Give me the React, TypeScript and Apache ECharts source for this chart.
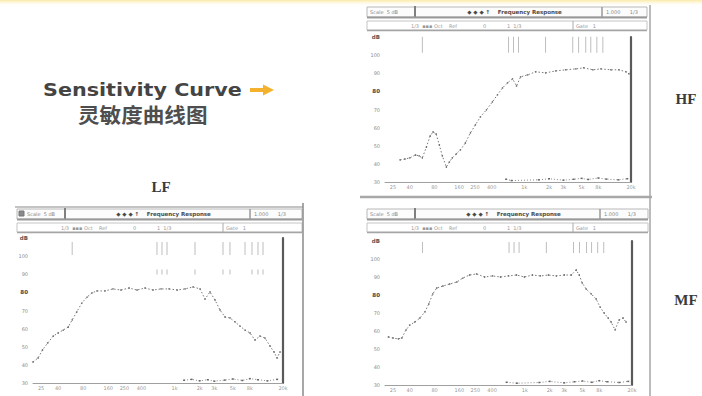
import React, { useEffect, useRef } from 'react';
import * as echarts from 'echarts';

// ---- data (frequency in Hz, level in dB) ----
const HF_FREQ = [30.5, 35, 40, 47, 52, 57, 64, 71, 77, 84, 92, 100, 112, 122, 132, 148, 166, 191, 220, 253, 291, 345, 408, 470, 542, 624, 718, 804, 900, 1096, 1374, 1820, 2414, 3200, 4240, 5314, 6850, 8590, 11380, 14260, 17370, 18880];
const HF_DB = [42.2, 42.7, 43.3, 44.9, 44.4, 43.3, 49.3, 55.4, 57.6, 56.5, 50.4, 44.4, 38.3, 41, 43.3, 45.5, 47.7, 51.5, 57.1, 61.5, 65.9, 69.8, 74.2, 78.1, 81.9, 84.7, 86.9, 83, 88, 89.1, 90.8, 90.2, 91.3, 91.9, 92.4, 93, 91.9, 92.4, 91.9, 91.9, 90.8, 89.7];

const LF_FREQ = [20, 23, 26, 30, 35, 40, 46, 53, 59, 67, 77, 89, 102, 117, 146, 182, 227, 284, 354, 442, 551, 687, 857, 1070, 1334, 1664, 2020, 2318, 2661, 3055, 3508, 4027, 4623, 5310, 6095, 6998, 8035, 9226, 10590, 12160, 13960, 15600, 16950, 18410];
const LF_DB = [41.6, 43.8, 48.2, 52.1, 55.9, 57.6, 59.2, 60.9, 64.8, 69.2, 74.1, 77.4, 79.7, 80.8, 80.8, 81.9, 81.3, 82.4, 81.3, 82.4, 81.3, 81.9, 81.9, 81.3, 81.9, 83, 81.9, 76.3, 80.2, 75.8, 70.3, 66.4, 65.9, 63.7, 61.4, 59.2, 57.6, 53.7, 55.9, 54.8, 50.4, 47.1, 43.8, 47.1];

const MF_FREQ = [22, 25, 29, 32, 36, 40, 46, 53, 61, 68, 76, 85, 101, 122, 149, 176, 213, 259, 324, 405, 506, 632, 791, 987, 1234, 1542, 1928, 2405, 3008, 3656, 4200, 4570, 4970, 5550, 6380, 7330, 8200, 9160, 10250, 11140, 12450, 13930, 15560, 16910];
const MF_DB = [56.7, 56.1, 55.6, 56.1, 60.6, 63.3, 65, 67.2, 70.6, 75, 80.6, 83.9, 85, 86.1, 87.2, 89.4, 91.1, 91.7, 90, 90.6, 90, 90.6, 91.1, 90, 91.1, 90.6, 91.1, 90.6, 91.1, 91.1, 93.9, 91.1, 86.7, 83.3, 80.6, 77.8, 73.3, 70, 67.2, 65, 60.6, 66.1, 67.2, 65];

// noise floor traces near the bottom of each plot
const HF_FLOOR_FREQ = [600, 700, 1500, 2000, 3000, 4000, 5000, 6000, 8000, 10000, 14000, 18000];
const HF_FLOOR_DB = [31.5, 30.8, 31.2, 31.8, 31, 31.5, 32, 31.4, 32.2, 31.6, 31.2, 31.8];
const LF_FLOOR_FREQ = [1300, 1600, 2000, 2500, 3000, 4000, 5000, 6500, 8000, 10000, 13000, 17000];
const LF_FLOOR_DB = [31.5, 32, 31.2, 31.8, 31, 31.6, 32.2, 31.4, 32.4, 31.8, 31.2, 32];
const MF_FLOOR_FREQ = [600, 800, 1500, 2000, 3000, 4000, 5000, 6500, 8000, 10000, 14000, 18000];
const MF_FLOOR_DB = [31.5, 31, 31.4, 32, 31.2, 31.8, 32.2, 31.5, 32.4, 31.8, 31.4, 32];

// marker frequencies (short vertical ticks at the top of each plot)
const HF_MARKS = [57, 642, 738, 850, 1820, 3900, 4600, 5620, 6470, 7670, 9080];
const LF_MARKS = [59, 615, 706, 811, 1758, 3810, 4620, 7000, 8490, 10020, 11510];
const LF_MARKS2 = [615, 706, 811, 1758, 3810, 4620, 8490, 10020, 11510];
const MF_MARKS = [57, 642, 738, 850, 1820, 3900, 4600, 5620, 6470, 7670, 9080];

const FREQ_TICKS = [25, 40, 80, 160, 250, 400, 1000, 2000, 3000, 5000, 8000, 20000];
const Y_MIN = 30;
const Y_MAX = 110;
const Y_STEP = 10;
const F_MIN = 20;
const F_MAX = 20000;

const zip = (a: number[], b: number[]) => a.map((v, i) => [v, b[i]]);
const fmtFreq = (v: number) => (v >= 1000 ? `${v / 1000}k` : `${v}`);

const GRIDS = [
  { left: 385, right: 71, top: 37, bottom: 214 }, // HF
  { left: 33, right: 419, top: 238, bottom: 13 }, // LF
  { left: 385, right: 70, top: 241, bottom: 11 }, // MF
];

const T = 'DejaVu Sans';

function txt(x: number, y: number, text: string, size: number, fill: string, extra: any = {}) {
  return {
    type: 'text', x, y, z: 5, silent: true,
    style: { text, fontSize: size, fontFamily: extra.family || T, fontWeight: extra.weight || 'normal', fill, align: extra.align || 'left', verticalAlign: 'middle' },
    scaleX: extra.scaleX || 1,
  };
}
function ln(x1: number, y1: number, x2: number, y2: number, stroke: string, lw = 1) {
  return { type: 'line', z: 1, silent: true, shape: { x1, y1, x2, y2 }, style: { stroke, lineWidth: lw } };
}
function rc(x: number, y: number, w: number, h: number, stroke: string, fill = '#fff', lw = 1) {
  return { type: 'rect', z: 1, silent: true, shape: { x, y, width: w, height: h }, style: { stroke, fill, lineWidth: lw } };
}

function panelHeader(x0: number, x1: number, yTop: number, d1: number, d2: number, d3: number, textOffset = 3) {
  const w = x1 - x0;
  return [
    rc(x0, yTop, w, 10, '#b8b8b8', '#fcfcfc'),
    ln(d1, yTop - 1, d1, yTop + 11, '#808080', 2),
    ln(d2, yTop, d2, yTop + 10, '#9a9a9a', 1.5),
    ln(x0, yTop + 10.5, x1, yTop + 10.5, '#999', 2),
    rc(x0, yTop + 14, w, 9, '#c4c4c4', '#fff'),
    ln(x0, yTop + 23.5, x1, yTop + 23.5, '#a5a5a5', 1.5),
    ln(d3, yTop + 14, d3, yTop + 23, '#aaa', 1),
    txt(x0 + textOffset, yTop + 5, 'Scale  5 dB', 5, '#888'),
    txt((d1 + d2) / 2 + 6, yTop + 5, '◆ ◆ ◆ ↑    Frequency Response', 5.5, '#4a4a4a', { align: 'center', weight: 'bold' }),
    txt(d2 + 4, yTop + 5, '1.000      1/3', 5, '#888'),
    txt(d1 - 4, yTop + 18.5, '1/3  ▪▪▪ Oct    Ref', 5, '#999'),
    txt(d1 + 68, yTop + 18.5, '0', 5, '#999'),
    txt(d1 + 92, yTop + 18.5, '1  1/3', 5, '#999'),
    txt(d3 + 3, yTop + 18.5, 'Gate   1', 5, '#999'),
  ];
}

function buildOption() {
  const xAxis = GRIDS.map((_, i) => ({
    type: 'log', logBase: 10, gridIndex: i, min: F_MIN, max: F_MAX,
    axisLine: { show: true, lineStyle: { color: '#a0a0a0', width: 1 } },
    axisTick: { show: false }, axisLabel: { show: false }, splitLine: { show: false },
  }));
  const yAxis: any[] = [];
  GRIDS.forEach((_, i) => {
    yAxis.push({
      type: 'value', gridIndex: i, min: Y_MIN, max: Y_MAX, interval: Y_STEP, position: 'left',
      axisLine: { show: false }, axisTick: { show: false }, splitLine: { show: false },
      axisLabel: {
        margin: 5, fontSize: 5, color: '#8a8a8a', fontFamily: T,
        formatter: (v: number) => (v === Y_MAX ? '{u|dB}' : v === 80 ? `{b|${v}}` : `${v}`),
        rich: { b: { fontSize: 5.5, fontWeight: 'bold', color: '#444' }, u: { fontSize: 5.5, fontWeight: 'bold', color: '#555' } },
      },
    });
    yAxis.push({
      type: 'value', gridIndex: i, min: Y_MIN, max: Y_MAX, interval: Y_STEP, position: 'right',
      axisLine: { show: true, lineStyle: { color: '#5a5a5a', width: 2.2 } },
      axisTick: { show: false }, axisLabel: { show: false }, splitLine: { show: false },
    });
  });

  const curves = [zip(HF_FREQ, HF_DB), zip(LF_FREQ, LF_DB), zip(MF_FREQ, MF_DB)];
  const floors = [zip(HF_FLOOR_FREQ, HF_FLOOR_DB), zip(LF_FLOOR_FREQ, LF_FLOOR_DB), zip(MF_FLOOR_FREQ, MF_FLOOR_DB)];
  const marks = [HF_MARKS, LF_MARKS, MF_MARKS];
  const markLevel = [105.7, 104.2, 106.4];
  const markH = [16, 13, 11];

  const series: any[] = [];
  GRIDS.forEach((_, i) => {
    series.push({
      type: 'line', xAxisIndex: i, yAxisIndex: 2 * i, data: curves[i],
      symbol: 'circle', symbolSize: 1.6, showSymbol: true,
      itemStyle: { color: '#707070' },
      lineStyle: { color: '#7a7a7a', width: 1, type: [1.5, 2] },
      silent: true,
    });
    series.push({
      type: 'line', xAxisIndex: i, yAxisIndex: 2 * i, data: floors[i],
      symbol: 'rect', symbolSize: [2, 1.5], showSymbol: true,
      itemStyle: { color: '#666' },
      lineStyle: { color: '#888', width: 1, type: [1, 2] },
      silent: true,
    });
    series.push({
      type: 'scatter', xAxisIndex: i, yAxisIndex: 2 * i,
      data: marks[i].map((f) => [f, markLevel[i]]),
      symbol: 'rect', symbolSize: [0.8, markH[i]],
      itemStyle: { color: '#9a9a9a' }, silent: true,
    });
    series.push({
      type: 'scatter', xAxisIndex: i, yAxisIndex: 2 * i, clip: false,
      data: FREQ_TICKS.map((f) => [f, Y_MIN]),
      symbol: 'circle', symbolSize: 1, itemStyle: { color: 'rgba(0,0,0,0)' },
      label: { show: true, position: 'bottom', distance: 2, fontSize: 5, color: '#7a7a7a', fontFamily: T, formatter: (p: any) => fmtFreq(p.value[0]) },
      silent: true,
    });
  });
  series.push({
    type: 'scatter', xAxisIndex: 1, yAxisIndex: 2,
    data: LF_MARKS2.map((f) => [f, 91.2]),
    symbol: 'rect', symbolSize: [0.8, 5],
    itemStyle: { color: '#9a9a9a' }, silent: true,
  });

  const graphic: any[] = [
    {
      type: 'rect', z: 0, silent: true, shape: { x: 0, y: 0, width: 702, height: 6 },
      style: { fill: new echarts.graphic.LinearGradient(0, 0, 0, 1, [{ offset: 0, color: '#fbeaa6' }, { offset: 1, color: 'rgba(255,253,240,0)' }]) },
    },
    // HF panel
    ...panelHeader(367, 647, 7, 415, 602, 573),
    ln(650, 5, 650, 396, '#bcbcbc', 2),
    ln(360, 197, 652, 197, '#a8a8a8', 2.5),
    // LF panel
    ln(15, 207, 303, 207, '#b0b0b0', 1.5),
    ...panelHeader(17, 302, 209, 65, 250, 223, 10),
    rc(19, 211, 5, 5, '#777', '#8a8a8a'),
    ln(303, 203, 303, 396, '#8a8a8a', 1.5),
    // MF panel
    ...panelHeader(367, 648, 209, 415, 600, 573),
    // titles
    txt(43, 89.5, 'Sensitivity Curve', 18, '#444', { weight: 'bold', scaleX: 1.15 }),
    {
      type: 'polygon', z: 5, silent: true,
      shape: { points: [[250, 88], [263, 88], [263, 84.5], [274, 90], [263, 95.5], [263, 92], [250, 92]] },
      style: { fill: '#f4b12c' },
    },
    txt(78, 114, '灵敏度曲线图', 20, '#4e4e4e', { weight: 'bold', family: 'Noto Sans CJK SC', scaleX: 1.08 }),
    txt(161, 187, 'LF', 15, '#3a3a3a', { weight: 'bold', family: 'Liberation Serif', align: 'center' }),
    txt(686, 99, 'HF', 15, '#3a3a3a', { weight: 'bold', family: 'Liberation Serif', align: 'center' }),
    txt(686, 300, 'MF', 15, '#3a3a3a', { weight: 'bold', family: 'Liberation Serif', align: 'center' }),
  ];

  return {
    animation: false,
    backgroundColor: '#ffffff',
    grid: GRIDS,
    xAxis,
    yAxis,
    series,
    graphic,
  };
}

export default function App() {
  const ref = useRef<HTMLDivElement>(null);
  useEffect(() => {
    if (!ref.current) return;
    const chart = echarts.init(ref.current, undefined, { renderer: 'svg' });
    chart.setOption(buildOption() as any);
    return () => chart.dispose();
  }, []);
  return <div ref={ref} style={{ position: 'absolute', left: 0, top: 0, width: 702, height: 396 }} />;
}
